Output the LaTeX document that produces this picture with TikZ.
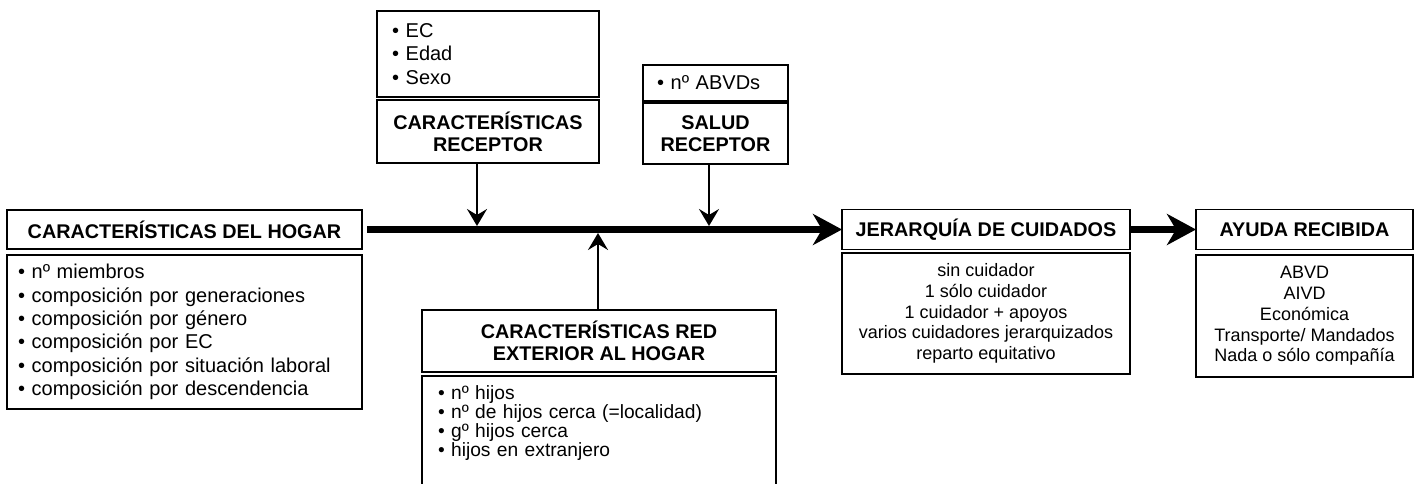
\documentclass[tikz,border=0pt]{standalone}
\usepackage{fontspec}
\setmainfont{Liberation Sans}
\usetikzlibrary{arrows.meta}
\begin{document}
\begin{tikzpicture}[x=1pt,y=-1pt,
  box/.style={draw,line width=1.8pt,rectangle,inner sep=0pt,outer sep=0pt},
  headtxt/.style={font=\bfseries\fontsize{19.8}{22}\selectfont,align=center},
  listtxt/.style={font=\fontsize{20}{23.3}\selectfont,align=left},
  ctrtxt/.style={font=\fontsize{18}{20.7}\selectfont,align=center},
  mainarrow/.style={line width=7pt,-{Stealth[length=29pt,width=31pt,inset=9pt]}},
  thinarrow/.style={line width=2.2pt,-{Stealth[length=17pt,width=20pt,inset=6pt]}}
]
\useasboundingbox (0,0) rectangle (1418,484);
\clip (0,0) rectangle (1418,484);

% left
\node[box,headtxt,minimum width=355pt,minimum height=39pt] (hogarhead) at (184.5,229.5) {CARACTERÍSTICAS DEL HOGAR};
\node[box,listtxt,minimum width=355pt,minimum height=154pt,text width=333pt] (hogarbody) at (184.5,332)
 {• nº miembros\\• composición por generaciones\\• composición por género\\• composición por EC\\• composición por situación laboral\\• composición por descendencia};

% top left
\node[box,listtxt,minimum width=222pt,minimum height=86pt,text width=192pt] (recepitems) at (488,54)
 {• EC\\• Edad\\• Sexo};
\node[box,headtxt,minimum width=222pt,minimum height=63pt] (recephead) at (488,131.5) {CARACTERÍSTICAS\\RECEPTOR};

% top right
\node[box,listtxt,minimum width=145pt,minimum height=36pt,text width=117pt] (saluditems) at (715.5,83) {• nº ABVDs};
\node[box,headtxt,minimum width=145pt,minimum height=61pt] (saludhead) at (715.5,133.5) {SALUD\\RECEPTOR};

% bottom middle
\node[box,headtxt,minimum width=354pt,minimum height=62pt] (redhead) at (599,341) {CARACTERÍSTICAS RED\\EXTERIOR AL HOGAR};
\node[box,minimum width=354pt,minimum height=130pt,anchor=north west] (redbody) at (422,376) {};
\node[font=\fontsize{19.2}{19}\selectfont,align=left,text width=322pt,inner sep=0pt] (redlist) at (599,423)
 {• nº hijos\\• nº de hijos cerca (=localidad)\\• gº hijos cerca\\• hijos en extranjero};

% right
\node[box,headtxt,minimum width=288pt,minimum height=40pt] (jerhead) at (986,229.5) {JERARQUÍA DE CUIDADOS};
\node[box,ctrtxt,minimum width=288pt,minimum height=121pt] (jerbody) at (986,313.5)
 {sin cuidador\\1 sólo cuidador\\1 cuidador + apoyos\\varios cuidadores jerarquizados\\reparto equitativo};
\node[box,headtxt,minimum width=217pt,minimum height=40pt] (ayudahead) at (1304.5,229.5) {AYUDA RECIBIDA};
\node[box,ctrtxt,minimum width=217pt,minimum height=122pt] (ayudabody) at (1304.5,316)
 {ABVD\\AIVD\\Económica\\Transporte/ Mandados\\Nada o sólo compañía};

% connectors
\coordinate (j1) at (477,226);
\coordinate (j2) at (709,226);
\coordinate (j3) at (598,233);
\draw[mainarrow] ([xshift=5pt]hogarhead.east) -- (jerhead.west);
\draw[mainarrow] (jerhead.east) -- (ayudahead.west);
\draw[thinarrow] (recephead.south -| j1) -- (j1);
\draw[thinarrow] (saludhead.south -| j2) -- (j2);
\draw[thinarrow] (redhead.north -| j3) -- (j3);
\end{tikzpicture}
\end{document}
